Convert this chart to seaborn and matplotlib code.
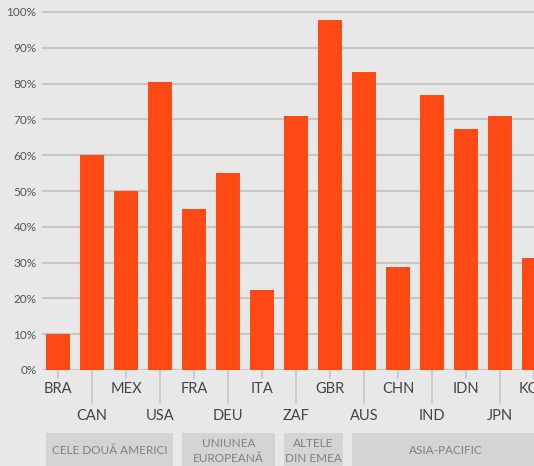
#!/usr/bin/env python3

import matplotlib
matplotlib.use('Agg')
import matplotlib.pyplot as plt
from matplotlib.patches import Rectangle
from matplotlib.transforms import blended_transform_factory
from matplotlib.ticker import PercentFormatter
import pandas as pd
import seaborn as sns


COUNTRIES = ['BRA', 'CAN', 'MEX', 'USA', 'FRA', 'DEU', 'ITA', 'ZAF',
             'GBR', 'AUS', 'CHN', 'IND', 'IDN', 'JPN', 'KOR']
SHARES = [10, 60, 50, 80.5, 45, 55, 22.3, 71, 97.8, 83.2, 28.8, 76.8,
          67.3, 71, 31.3]  # %
GROUP_NAMES = ['CELE DOUĂ AMERICI', 'UNIUNEA\nEUROPEANĂ', 'ALTELE\nDIN EMEA',
               'ASIA-PACIFIC']
GROUP_SPANS = [(0, 3), (4, 6), (7, 8), (9, 14)]  # first, last country index

BAR_COLOR = '#FF4A16'
BG = '#E8E8E8'
GRID = '#C6C6C6'


def main():
    df = pd.DataFrame({'country': COUNTRIES, 'share': SHARES})

    sns.set_theme(style='white')
    plt.rcParams['font.family'] = ['Lato', 'DejaVu Sans']

    fig = plt.figure(figsize=(5.34, 4.66), dpi=100, facecolor=BG)
    # axes: left edge 42px, 0% at y=370px, top at y=8px
    ax = fig.add_axes([42 / 534, 96 / 466, 1 - 42 / 534, 362 / 466])
    ax.set_facecolor(BG)

    sns.barplot(ax=ax, data=df, x='country', y='share', color=BAR_COLOR,
                saturation=1, width=0.7, linewidth=0, edgecolor='none',
                zorder=3)

    ax.set_xlim(-0.47, 14.0)
    ax.set_ylim(0, 100 * 362 / 358)
    ax.set_yticks(range(0, 101, 10))
    ax.yaxis.set_major_formatter(PercentFormatter(decimals=0))
    ax.tick_params(axis='y', length=0, pad=4, labelsize=8.5,
                   labelcolor='#555555')
    ax.yaxis.grid(True, color=GRID, lw=1.5, zorder=0)
    ax.set_axisbelow(True)
    ax.set_xticks([])
    ax.set(xlabel='', ylabel='')
    sns.despine(ax=ax, left=True, bottom=True, top=True, right=True)

    # staggered category labels with tick lines
    tr = blended_transform_factory(ax.transData, ax.transAxes)
    for i, name in enumerate(COUNTRIES):
        if i % 2 == 0:
            ax.plot([i, i], [0, -0.022], color=GRID, lw=1.2, transform=tr,
                    clip_on=False)
            ax.text(i, -0.053, name, transform=tr, ha='center', va='center',
                    fontsize=10.5, color='#444444', clip_on=False)
        else:
            ax.plot([i, i], [0, -0.091], color=GRID, lw=1.2, transform=tr,
                    clip_on=False)
            ax.text(i, -0.128, name, transform=tr, ha='center', va='center',
                    fontsize=10.5, color='#444444', clip_on=False)

    # region boxes
    for name, (a, b) in zip(GROUP_NAMES, GROUP_SPANS):
        x0, x1 = a - 0.36, b + 0.38
        ax.add_patch(Rectangle((x0, -0.29), x1 - x0, 0.116, transform=tr,
                               facecolor='#D4D4D4', edgecolor='none',
                               clip_on=False))
        xc = (x0 + x1) / 2 if b < 14 else 11.4
        ax.text(xc, -0.223, name, transform=tr, ha='center', va='center',
                fontsize=8.5, color='#808080', linespacing=1.4, clip_on=False)

    fig.savefig('out.png', dpi=100, facecolor=BG)


if __name__ == '__main__':
    main()
